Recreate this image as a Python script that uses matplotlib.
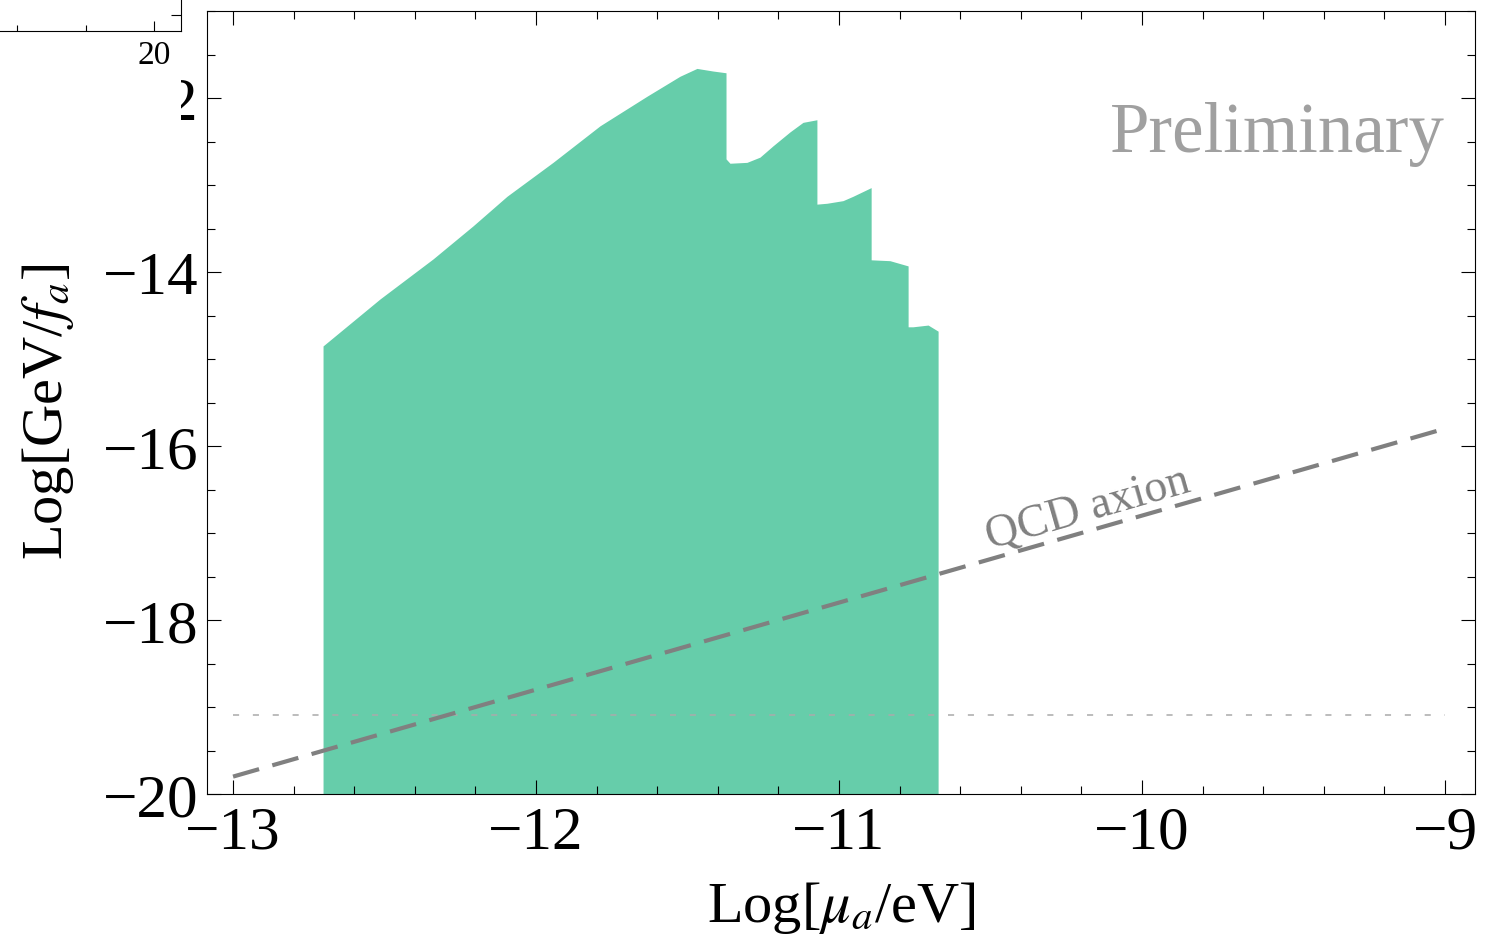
import numpy as np
import matplotlib
matplotlib.use("Agg")
import matplotlib.pyplot as plt
from matplotlib.ticker import MultipleLocator, FixedLocator
from matplotlib.patches import Rectangle

plt.rcParams['font.family'] = ['Liberation Serif', 'DejaVu Serif']
plt.rcParams['mathtext.fontset'] = 'stix'

# upper boundary of the excluded (green) region
mu_edge = [-12.703, -12.703, -12.515, -12.340, -12.208, -12.096, -11.944, -11.789,
           -11.634, -11.525, -11.469, -11.416, -11.373, -11.373, -11.360, -11.304,
           -11.261, -11.218, -11.162, -11.119, -11.073, -11.073, -11.040, -10.987,
           -10.954, -10.894, -10.894, -10.832, -10.772, -10.772, -10.756, -10.706,
           -10.673, -10.673]
g_edge = [-21.0, -14.85, -14.31, -13.85, -13.47, -13.13, -12.74, -12.32,
          -11.98, -11.75, -11.66, -11.69, -11.71, -12.70, -12.75, -12.74,
          -12.68, -12.55, -12.39, -12.28, -12.25, -13.22, -13.21, -13.18,
          -13.13, -13.03, -13.86, -13.87, -13.93, -14.63, -14.63, -14.61,
          -14.68, -21.0]

# QCD axion line
qcd_mu = [-13.0, -9.0]
qcd_g = [-19.8, -15.8]

# horizontal reference line
ref_mu = [-13.0, -9.0]
ref_g = [-19.09, -19.09]

W, H = 1491, 945
fig = plt.figure(figsize=(W / 100, H / 100), dpi=100)
ax = fig.add_axes([207 / W, 1 - 795 / H, (1475 - 207) / W, (795 - 12) / H])

ax.fill_between(mu_edge, g_edge, -21.0, color='#66CDAA', lw=0, zorder=1)
ax.plot(ref_mu, ref_g, color='#AAAAAA', lw=1.1, dashes=(4, 9), zorder=2)
ax.plot(qcd_mu, qcd_g, color='#808080', lw=3.0, dashes=(6.5, 3.3), zorder=3)

ax.set_xlim(-13.086, -8.901)
ax.set_ylim(-20.0, -11.0)
ax.xaxis.set_major_locator(MultipleLocator(1))
ax.xaxis.set_minor_locator(MultipleLocator(0.2))
ax.yaxis.set_major_locator(MultipleLocator(2))
ax.yaxis.set_minor_locator(MultipleLocator(0.5))
ax.tick_params(which='both', direction='in', top=True, right=True, width=0.8)
ax.tick_params(which='major', length=10, labelsize=44)
ax.tick_params(axis='x', which='major', pad=8)
ax.tick_params(axis='y', which='major', pad=6)
ax.tick_params(which='minor', length=5.5)
for s in ax.spines.values():
    s.set_linewidth(0.8)

ax.text(0.5, -0.144, r'Log[$\mu_a$/eV]', transform=ax.transAxes,
        ha='center', va='center', fontsize=42)
ax.text(-0.126, 0.489, r'Log[GeV/$f_a$]', transform=ax.transAxes,
        ha='center', va='center', rotation=90, fontsize=42)

ax.text(-9.0, -12.61, 'Preliminary', color='#A0A0A0', fontsize=51,
        ha='right', va='baseline')

p1 = ax.transData.transform((qcd_mu[0], qcd_g[0]))
p2 = ax.transData.transform((qcd_mu[1], qcd_g[1]))
ang = np.degrees(np.arctan2(p2[1] - p1[1], p2[0] - p1[0]))
ax.text(-10.50, -17.17, 'QCD axion', color='#808080', fontsize=33,
        rotation=ang, rotation_mode='anchor', ha='left', va='baseline')

# leftover piece of another panel in the upper-left corner
fig.add_artist(Rectangle((0, 1 - 125 / H), 181 / W, 125 / H, transform=fig.transFigure,
                         facecolor='white', edgecolor='none', zorder=5))
ins = fig.add_axes([-80 / W, 1 - 32 / H, 261 / W, 72 / H], zorder=6)
ins.patch.set_alpha(0)
ins.set_xlim(2.92, 21.97)
ins.set_ylim(0, 1)
ins.spines['top'].set_visible(False)
ins.spines['left'].set_visible(False)
for s in ins.spines.values():
    s.set_linewidth(0.8)
ins.xaxis.set_major_locator(FixedLocator([20]))
ins.xaxis.set_minor_locator(FixedLocator([10, 15]))
ins.yaxis.set_major_locator(FixedLocator([0.222]))
ins.yaxis.set_ticks_position('right')
ins.set_yticklabels([])
ins.tick_params(which='both', direction='in', width=0.8)
ins.tick_params(which='major', length=7, labelsize=24, pad=6)
ins.tick_params(which='minor', length=4.5)

fig.savefig('out.png', dpi=100)
